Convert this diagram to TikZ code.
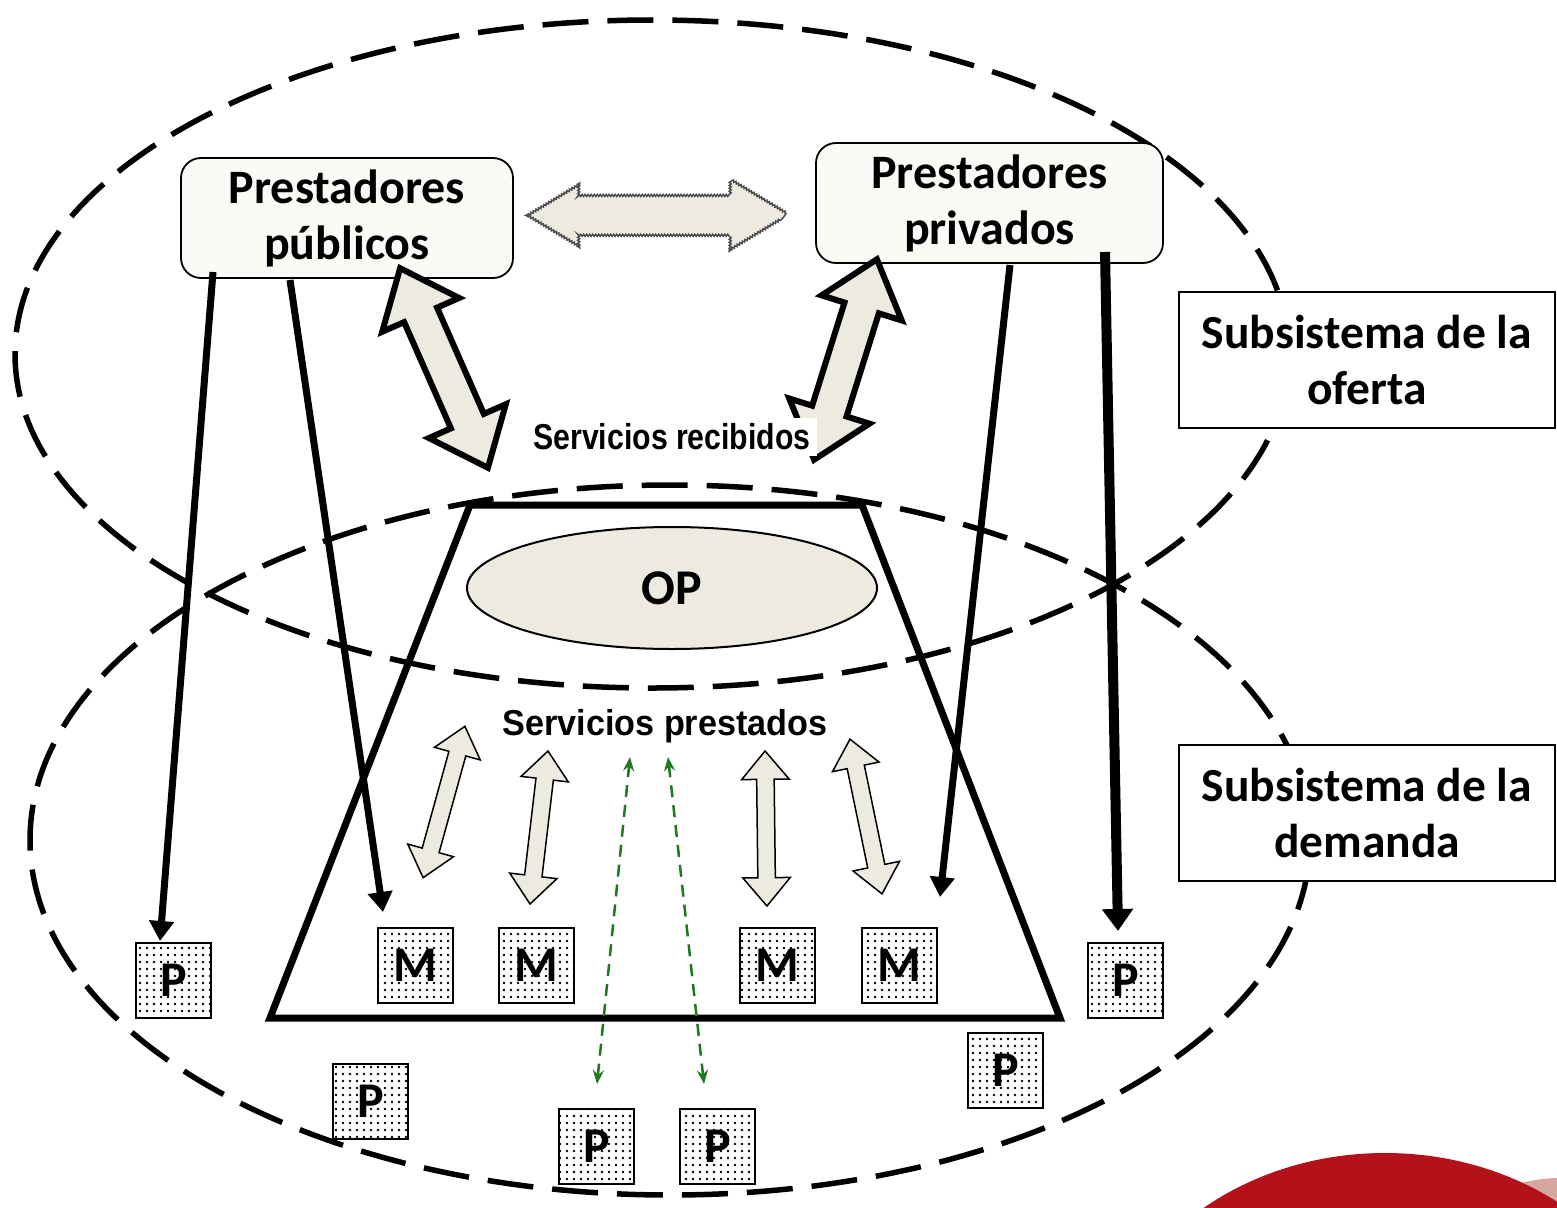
\documentclass[tikz,border=0pt]{standalone}
\usepackage{fontspec}
\setmainfont{Carlito}
\newfontfamily\arialf{Liberation Sans}
\usetikzlibrary{shapes.arrows,shapes.geometric,patterns.meta,arrows.meta,decorations.pathmorphing,calc}
\definecolor{beige}{HTML}{EDEBE0}
\definecolor{boxfill}{HTML}{FAFAF7}
\definecolor{redc}{HTML}{B5111B}
\definecolor{pinkc}{HTML}{D6A79E}
\definecolor{greenc}{HTML}{1E7A1E}
\begin{document}
\begin{tikzpicture}[x=1pt,y=-1pt,
  dashell/.style={draw, ellipse, line width=5.5pt, dash pattern=on 46pt off 19pt, inner sep=0pt},
  pbox/.style={draw, rounded corners=20pt, fill=boxfill, line width=1.8pt, align=center, inner sep=0pt,
    font=\bfseries\fontsize{48}{56}\selectfont},
  sbox/.style={draw, fill=white, line width=1.8pt, align=center, inner sep=0pt,
    font=\bfseries\fontsize{47.5}{56}\selectfont},
  pmbox/.style={draw, line width=2pt, preaction={fill=white}, pattern={Dots[radius=1.3pt, distance=7pt]},
    minimum size=75pt, inner sep=0pt, font=\bfseries\fontsize{50}{50}\selectfont},
  bigarr/.style={double arrow, draw, fill=beige, line width=6pt, inner xsep=0pt, inner ysep=15pt,
    double arrow head extend=24pt, double arrow tip angle=79, line join=miter},
  medarr/.style={double arrow, draw, fill=beige, line width=1.5pt, inner xsep=0pt, inner ysep=8pt,
    double arrow head extend=15pt, double arrow tip angle=80},
  blackarr/.style={line width=7pt, -{Triangle[length=20pt,width=24pt]}},
  greenarr/.style={draw=greenc, line width=2.5pt, dash pattern=on 12pt off 8pt,
    {Stealth[length=14pt,width=11pt]}-{Stealth[length=14pt,width=11pt]}},
  lbl/.style={font=\arialf\bfseries\fontsize{36}{36}\selectfont, inner sep=0pt}
]
\useasboundingbox (0,0) rectangle (1557,1207);
% red shape at bottom right
\begin{scope}
  \clip (0,0) rectangle (1557,1207);
  \fill[pinkc] (1560,1290) ellipse [x radius=130, y radius=112];
  \fill[redc] (1385,1403) ellipse [x radius=290, y radius=250];
\end{scope}
% dashed ellipses
\node[dashell, minimum width=1274pt, minimum height=668pt] (topell) at (652,354) {};
\node[dashell, minimum width=1280pt, minimum height=710pt] (botell) at (670,840) {};
% trapezoid
\draw[line width=7pt, line join=miter] (470,505) -- (862,505) -- (1060,1018) -- (270,1018) -- cycle;
% OP
\node[ellipse, draw, fill=beige, line width=2pt, minimum width=410pt, minimum height=122pt, inner sep=0pt,
  font=\bfseries\fontsize{50}{50}\selectfont] (op) at (672,588) {OP};
% providers
\node[pbox, minimum width=332pt, minimum height=120pt] (pub) at (347,218) {Prestadores\\públicos};
\node[pbox, minimum width=347pt, minimum height=120pt] (priv) at (989.5,203) {Prestadores\\privados};
% wavy arrow
\node[double arrow, draw=black!70, fill=beige, line width=1.5pt, inner xsep=0pt, inner ysep=17.5pt,
  double arrow head extend=14pt, double arrow tip angle=62, minimum height=259pt,
  decorate, decoration={snake, amplitude=1pt, segment length=3pt}] (wa) at (657,213) {};
% big arrows
\node[bigarr, minimum height=218pt, rotate=-66.25] (ba1) at (444,368) {};
\node[bigarr, minimum height=210pt, rotate=72.6] (ba2) at (845.5,359.5) {};
\node[lbl, fill=white, inner xsep=6pt, inner ysep=6pt] (srec) at (672,437) {\scalebox{0.84}[1]{Servicios recibidos}};
% medium arrows
\node[medarr, minimum height=157pt, rotate=74.55] (ma1) at (444,802) {};
\node[medarr, minimum height=154pt, rotate=83.3] (ma2) at (539,827.5) {};
\node[medarr, minimum height=155pt, rotate=90.7] (ma3) at (766,828.5) {};
\node[medarr, minimum height=158pt, rotate=101.7] (ma4) at (866,816.5) {};
\node[lbl] (spre) at (665,726) {\scalebox{0.95}[1]{Servicios prestados}};
% P and M boxes
\node[pmbox] (p1) at (173.5,980.5) {P};
\node[pmbox] (p2) at (1125.5,980.5) {P};
\node[pmbox] (p3) at (1005.5,1070.5) {P};
\node[pmbox] (p4) at (370.5,1101.5) {P};
\node[pmbox] (p5) at (596.5,1146.5) {P};
\node[pmbox] (p6) at (717.5,1146.5) {P};
\node[pmbox] (m1) at (415.5,965.5) {M};
\node[pmbox] (m2) at (536.5,965.5) {M};
\node[pmbox] (m3) at (777.5,965.5) {M};
\node[pmbox] (m4) at (899.5,965.5) {M};
% green dashed arrows
\coordinate (g1a) at ($(p5.north)+(0.5,-24)$);
\coordinate (g1b) at (630,757);
\coordinate (g2a) at ($(p6.north)+(-13.5,-24)$);
\coordinate (g2b) at (668,757);
\draw[greenarr] (g1a) -- (g1b);
\draw[greenarr] (g2a) -- (g2b);
% black arrows
\coordinate (a1s) at (213,272);
\coordinate (a1e) at ($(p1.north)+(-13.5,-1)$);
\coordinate (a2s) at (290,280);
\coordinate (a2e) at (383,912);
\coordinate (a3s) at (1010,265);
\coordinate (a3e) at (940,897);
\coordinate (a4s) at (1105,252);
\coordinate (a4e) at ($(p2.north)+(-7.5,-11)$);
\draw[blackarr] (a1s) -- (a1e);
\draw[blackarr] (a2s) -- (a2e);
\draw[blackarr] (a3s) -- (a3e);
\draw[line width=10pt, -{Triangle[length=22pt,width=30pt]}] (a4s) -- (a4e);
% subsystem boxes
\node[sbox, minimum width=376pt, minimum height=136pt] (sof) at (1367,360) {Subsistema de la\\oferta};
\node[sbox, minimum width=376pt, minimum height=136pt] (sdem) at (1367,813) {Subsistema de la\\demanda};
\end{tikzpicture}
\end{document}
